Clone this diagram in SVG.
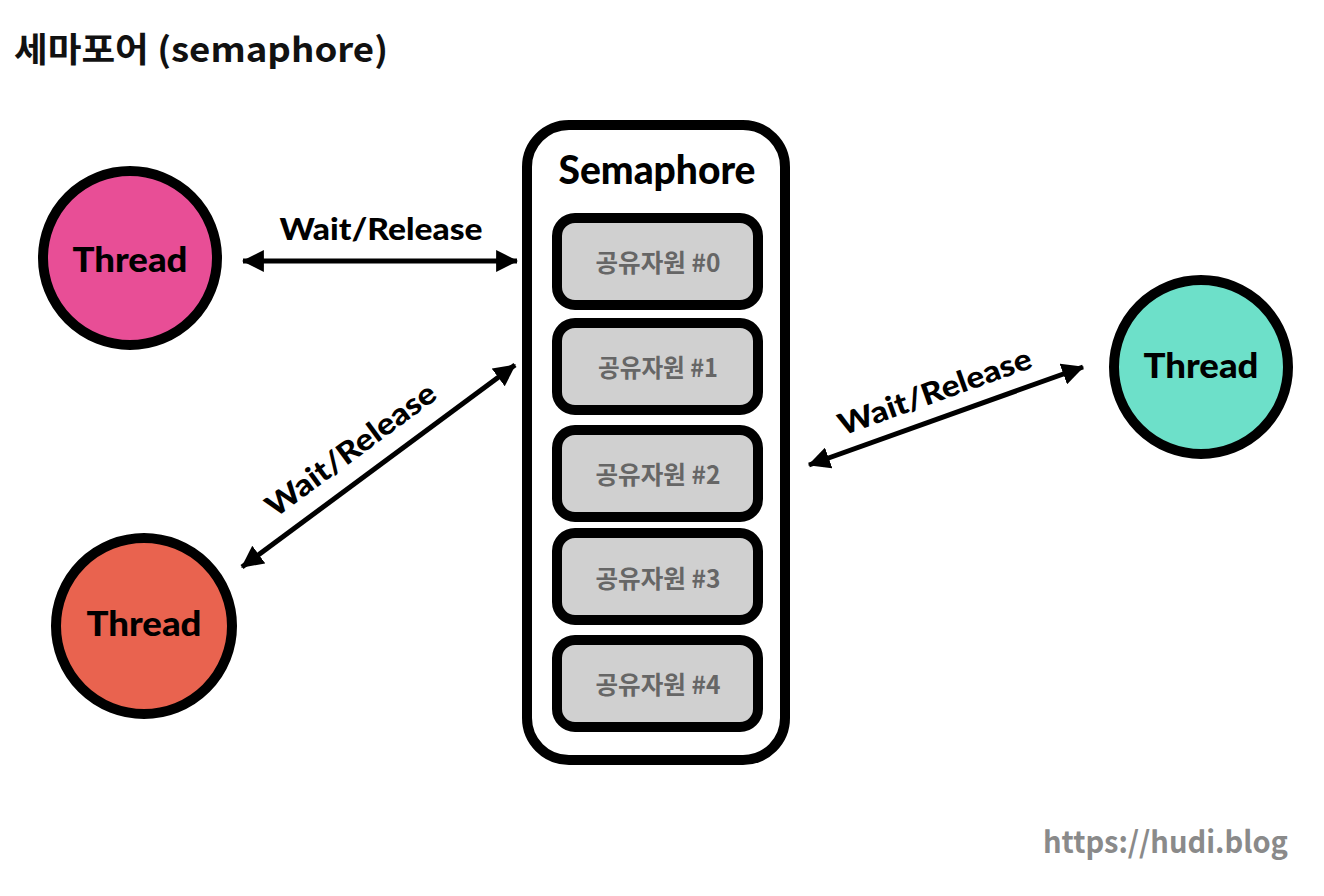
<svg xmlns="http://www.w3.org/2000/svg" width="1324" height="896" viewBox="0 0 1324 896">
  <defs>
    <marker id="ah" viewBox="0 0 20 20" refX="19" refY="10" markerWidth="22" markerHeight="22" markerUnits="userSpaceOnUse" orient="auto-start-reverse">
      <path d="M0,0 L20,10 L0,20 z" fill="#000"/>
    </marker>
  </defs>
  <style>
    .title { font-family: "Noto Sans CJK KR", "Noto Sans", sans-serif; font-weight: 700; font-size: 34px; fill: #111; }
    .thread { stroke: #000; stroke-width: 10; }
    .lbl { font-family: Lato, "Noto Sans", sans-serif; font-weight: 900; fill: #000; text-anchor: middle; }
    .res { fill: #d0d0d0; stroke: #000; stroke-width: 10; }
    .restext { font-family: "Noto Sans CJK KR", sans-serif; font-weight: 700; font-size: 25px; fill: #666; text-anchor: middle; }
    .conn { stroke: #000; stroke-width: 5; fill: none; marker-start: url(#ah); marker-end: url(#ah); }
    .wm { font-family: "Noto Sans CJK KR", "Noto Sans", sans-serif; font-weight: 700; font-size: 30px; fill: #8a8a8a; }
  </style>
  <rect width="1324" height="896" fill="#fff"/>
  <text class="title" x="14" y="62" textLength="374" lengthAdjust="spacingAndGlyphs">세마포어 (semaphore)</text>

  <g id="thread-pink">
    <circle class="thread" cx="130" cy="258" r="87" fill="#e84e96"/>
    <text class="lbl" x="130" y="272" font-size="34" textLength="115" lengthAdjust="spacingAndGlyphs">Thread</text>
  </g>
  <g id="thread-red">
    <circle class="thread" cx="144" cy="626" r="88" fill="#e9634f"/>
    <text class="lbl" x="144" y="636" font-size="34" textLength="115" lengthAdjust="spacingAndGlyphs">Thread</text>
  </g>
  <g id="thread-teal">
    <circle class="thread" cx="1201" cy="367" r="87" fill="#6de0c9"/>
    <text class="lbl" x="1201" y="378" font-size="34" textLength="115" lengthAdjust="spacingAndGlyphs">Thread</text>
  </g>

  <g id="semaphore">
    <rect x="527" y="125" width="258" height="635" rx="42" fill="#fff" stroke="#000" stroke-width="10"/>
    <text class="lbl" x="657" y="184" font-size="40" textLength="197" lengthAdjust="spacingAndGlyphs">Semaphore</text>
  </g>
  <g id="res0">
    <rect class="res" x="557" y="218" width="201" height="87" rx="18"/>
    <text class="restext" x="658" y="272" textLength="125" lengthAdjust="spacingAndGlyphs">공유자원 #0</text>
  </g>
  <g id="res1">
    <rect class="res" x="557" y="323" width="201" height="87" rx="18"/>
    <text class="restext" x="658" y="377" textLength="120" lengthAdjust="spacingAndGlyphs">공유자원 #1</text>
  </g>
  <g id="res2">
    <rect class="res" x="557" y="430" width="201" height="87" rx="18"/>
    <text class="restext" x="658" y="484" textLength="125" lengthAdjust="spacingAndGlyphs">공유자원 #2</text>
  </g>
  <g id="res3">
    <rect class="res" x="557" y="533" width="201" height="87" rx="18"/>
    <text class="restext" x="658" y="588" textLength="125" lengthAdjust="spacingAndGlyphs">공유자원 #3</text>
  </g>
  <g id="res4">
    <rect class="res" x="557" y="640" width="201" height="87" rx="18"/>
    <text class="restext" x="658" y="694" textLength="125" lengthAdjust="spacingAndGlyphs">공유자원 #4</text>
  </g>

  <g id="connectors">
    <line class="conn" x1="243" y1="261" x2="517" y2="261"/>
    <line class="conn" x1="242" y1="567" x2="515" y2="365"/>
    <line class="conn" x1="809" y1="465" x2="1083" y2="367"/>
    <text class="lbl" x="381" y="240" font-size="30" textLength="203" lengthAdjust="spacingAndGlyphs">Wait/Release</text>
    <text class="lbl" x="0" y="10" font-size="30" textLength="203" lengthAdjust="spacingAndGlyphs" transform="translate(351,450) rotate(-36.4)">Wait/Release</text>
    <text class="lbl" x="0" y="10" font-size="30" textLength="203" lengthAdjust="spacingAndGlyphs" transform="translate(935,392) rotate(-19.7)">Wait/Release</text>
  </g>

  <text class="wm" x="1043" y="853" textLength="245" lengthAdjust="spacingAndGlyphs">https://hudi.blog</text>
</svg>
